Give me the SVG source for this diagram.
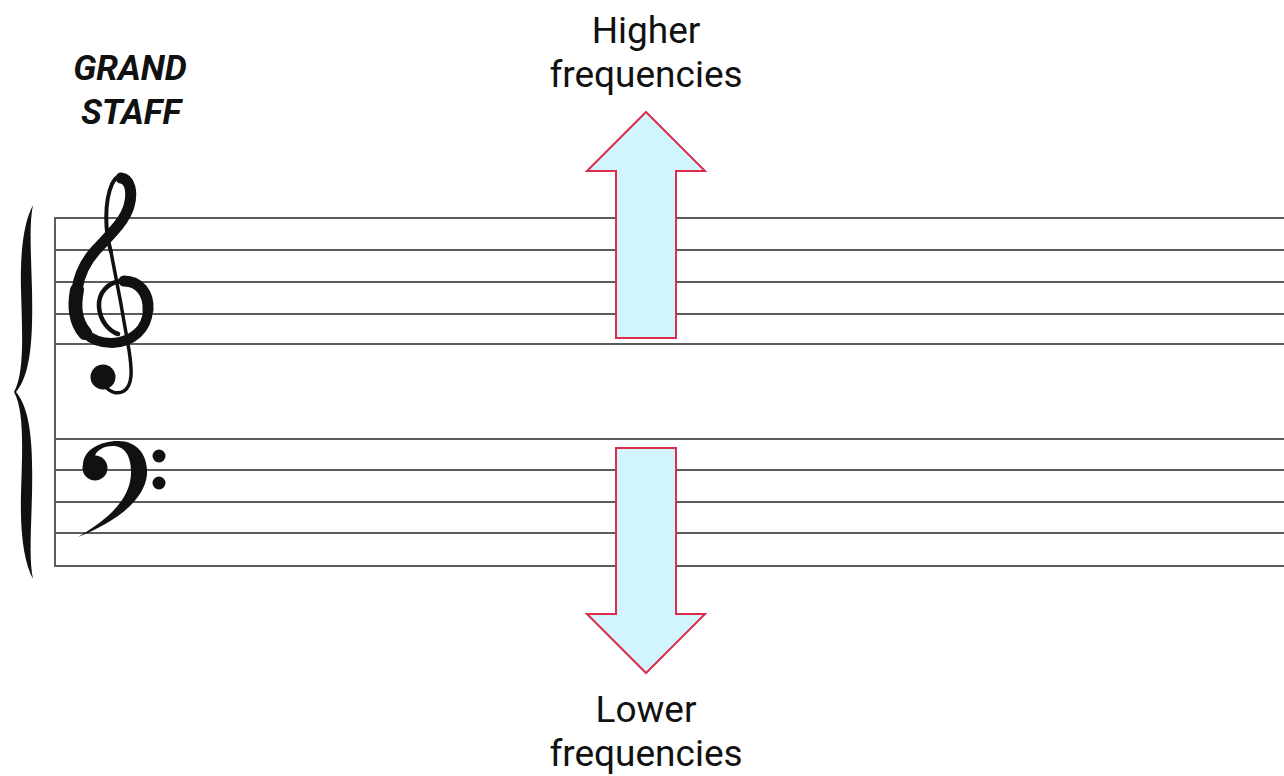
<svg xmlns="http://www.w3.org/2000/svg" width="1284" height="776" viewBox="0 0 1284 776">
<style>
.staff{stroke:#5c5c5c;stroke-width:2;fill:none}
.lbl{font-family:Roboto,"Liberation Sans",sans-serif;font-size:37px;fill:#111;text-anchor:middle}
.title{font-family:Roboto,"Liberation Sans",sans-serif;font-size:35px;font-weight:bold;font-style:italic;fill:#111;text-anchor:middle}
.arrow{fill:#d2f4fc;stroke:#dc2e4c;stroke-width:2;stroke-linejoin:miter}
.ink{fill:none;stroke:#111;stroke-linecap:round;stroke-linejoin:round}
</style>
<rect width="1284" height="776" fill="#fff"/>
<g id="title">
<text class="title" x="130" y="80">GRAND</text>
<text class="title" x="131" y="124">STAFF</text>
</g>
<g id="staff">
<line class="staff" x1="55" y1="218" x2="1284" y2="218"/>
<line class="staff" x1="55" y1="250" x2="1284" y2="250"/>
<line class="staff" x1="55" y1="282" x2="1284" y2="282"/>
<line class="staff" x1="55" y1="314" x2="1284" y2="314"/>
<line class="staff" x1="55" y1="344" x2="1284" y2="344"/>
<line class="staff" x1="55" y1="439" x2="1284" y2="439"/>
<line class="staff" x1="55" y1="470" x2="1284" y2="470"/>
<line class="staff" x1="55" y1="502" x2="1284" y2="502"/>
<line class="staff" x1="55" y1="533" x2="1284" y2="533"/>
<line class="staff" x1="55" y1="566" x2="1284" y2="566"/>
<line class="staff" x1="55" y1="217" x2="55" y2="567"/>
</g>
<g id="brace">
<path fill="#111" d="M33,205 C24,222 20,250 21,290 C22,330 25,372 14,392 C25,412 22,454 21,494 C20,534 24,562 33,579 C29,560 31,534 32,494 C33,446 31,410 16,392 C31,374 33,338 32,290 C31,250 29,224 33,205 Z"/>
</g>
<g id="treble-clef">
<path class="ink" stroke-width="4" d="M111,252 C105,232 104,202 112,184 C115,178 118,176 121,177"/>
<path class="ink" stroke-width="11" d="M121,178 C130,179 133,192 129,206 C125,221 110,235 96,250 C85,262 79,275 77,290"/>
<path class="ink" stroke-width="14" d="M77,290 C74,305 75,322 85,333"/>
<path class="ink" stroke-width="10" d="M85,333 C93,341 102,343 112,343 C133,342 147,329 148,310"/>
<path class="ink" stroke-width="11" d="M148,310 C149,293 139,281 124,281"/>
<path class="ink" stroke-width="4.5" d="M124,281 C108,281 98,293 99,307 C100,321 109,331 118,334"/>
<path class="ink" stroke-width="3.5" d="M111,252 C117,282 124,320 129,350 C132,370 133,385 124,391 C117,395 110,392 106,387"/>
<circle cx="103" cy="377" r="12.5" fill="#111"/>
</g>
<g id="bass-clef">
<circle cx="95" cy="468" r="12.5" fill="#111"/>
<path fill="#111" d="M83,465 C83,450 100,441 118,441 C138,441 148,456 147,474 C145,500 116,522 78,537 C112,517 131,497 131,472 C131,455 124,446 113,446 C103,446 96,451 95,456 Z"/>
<circle cx="159" cy="456" r="6.5" fill="#111"/>
<circle cx="159" cy="483" r="6.5" fill="#111"/>
</g>
<g id="connectors">
<path id="arrow-up" class="arrow" d="M646,112 L705,171 L676,171 L676,338 L616,338 L616,171 L587,171 Z"/>
<path id="arrow-down" class="arrow" d="M616,448 L676,448 L676,614 L705,614 L646,673 L587,614 L616,614 Z"/>
</g>
<g id="label-higher">
<text class="lbl" x="646" y="43">Higher</text>
<text class="lbl" x="646" y="87">frequencies</text>
</g>
<g id="label-lower">
<text class="lbl" x="646" y="722">Lower</text>
<text class="lbl" x="646" y="766">frequencies</text>
</g>
</svg>
